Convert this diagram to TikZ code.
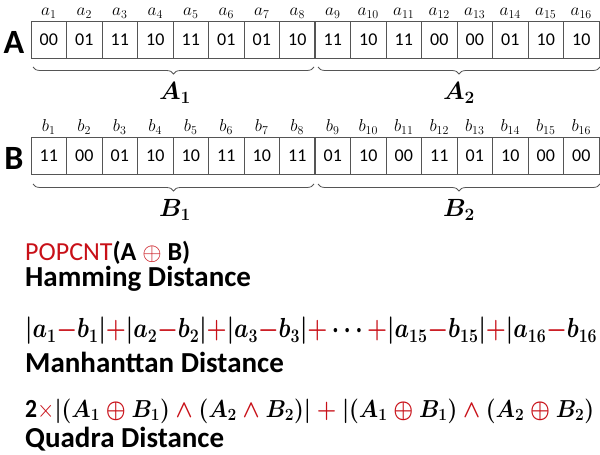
\documentclass[tikz,border=0pt]{standalone}
\usepackage{fontspec}
\setmainfont{Carlito}
\usepackage{bm}
\usetikzlibrary{decorations.pathreplacing}
\definecolor{myred}{RGB}{200,16,24}
\definecolor{cellline}{RGB}{85,85,85}
\newcommand{\rd}[1]{{\color{myred}#1}}
\newcommand{\rbin}[1]{\mathbin{\color{myred}\bm{#1}}}
\tikzset{
  cell/.style={draw=cellline, line width=0.8pt, minimum width=35.5pt, minimum height=37pt, inner sep=0pt, outer sep=0pt, font=\fontsize{18}{18}\selectfont},
  idx/.style={inner sep=0pt, font=\fontsize{18}{18}\selectfont},
  rowlab/.style={inner sep=0pt, font=\bfseries\fontsize{34}{34}\selectfont},
  bracepath/.style={draw=cellline, line width=0.8pt, decorate, decoration={brace, mirror, amplitude=7pt}},
  partlab/.style={inner sep=0pt, font=\fontsize{23}{23}\selectfont},
  txt/.style={inner sep=0pt, anchor=west, font=\fontsize{26}{28}\selectfont},
  ftxt/.style={inner sep=0pt, anchor=west, font=\fontsize{22}{24}\selectfont},
  btxt/.style={inner sep=0pt, anchor=west, font=\bfseries\fontsize{29}{31}\selectfont},
}
\begin{document}
\begin{tikzpicture}[x=1pt, y=-1pt]
\useasboundingbox (0,0) rectangle (600,455);
% row A
\foreach \v [count=\i] in {00,01,11,10,11,01,01,10,11,10,11,00,00,01,10,10}{
  \node[cell] (a\i) at ({31+35.5*(\i-0.5)}, 39.5) {\v};
  \node[idx] (la\i) at ({31+35.5*(\i-0.5)}, 13) {$a_{\i}$};
}
\draw[cellline, line width=1.4pt] (a8.north east) -- (a8.south east);
\node[rowlab] (rowA) at (14,42) {A};
\coordinate (ba1) at (33,67);
\coordinate (ba2) at (314,67);
\coordinate (ba3) at (318,67);
\coordinate (ba4) at (600,67);
\draw[bracepath] (ba1) -- (ba2);
\draw[bracepath] (ba3) -- (ba4);
\node[partlab] (A1) at (175,93) {$\bm{A_1}$};
\node[partlab] (A2) at (459,93) {$\bm{A_2}$};
% row B
\foreach \v [count=\i] in {11,00,01,10,10,11,10,11,01,10,00,11,01,10,00,00}{
  \node[cell] (b\i) at ({31+35.5*(\i-0.5)}, 156) {\v};
  \node[idx] (lb\i) at ({31+35.5*(\i-0.5)}, 127) {$b_{\i}$};
}
\draw[cellline, line width=1.4pt] (b8.north east) -- (b8.south east);
\node[rowlab] (rowB) at (14,158) {B};
\coordinate (bb1) at (33,184);
\coordinate (bb2) at (314,184);
\coordinate (bb3) at (318,184);
\coordinate (bb4) at (600,184);
\draw[bracepath] (bb1) -- (bb2);
\draw[bracepath] (bb3) -- (bb4);
\node[partlab] (B1) at (175,210) {$\bm{B_1}$};
\node[partlab] (B2) at (459,210) {$\bm{B_2}$};
% Hamming
\node[txt] (pop) at (25,253) {\rd{POPCNT}\textbf{(A \rd{$\oplus$} B)}};
\node[btxt] (ham) at (25,279) {Hamming Distance};
% Manhattan
\node[ftxt] (man) at (25,331) {\resizebox{572pt}{!}{\scalebox{1}[1.2]{\boldmath$\bm{|a_1}\rd{\bm{-}}\bm{b_1|}\rd{\bm{+}}\bm{|a_2}\rd{\bm{-}}\bm{b_2|}\rd{\bm{+}}\bm{|a_3}\rd{\bm{-}}\bm{b_3|}\rd{\bm{+}}\bm{\cdots}\rd{\bm{+}}\bm{|a_{15}}\rd{\bm{-}}\bm{b_{15}|}\rd{\bm{+}}\bm{|a_{16}}\rd{\bm{-}}\bm{b_{16}}$}}};
\node[btxt] (mand) at (25,362) {Manhanttan Distance};
% Quadra
\node[ftxt] (quad) at (25,411) {\resizebox{569pt}{!}{\scalebox{1}[1.1]{\textbf{2}\rd{$\times$}\boldmath$\bm{|(A_1} \rbin{\oplus} \bm{B_1)}\rbin{\wedge}\bm{(A_2}\rbin{\wedge} \bm{B_2)|}\rbin{+}\bm{|(A_1}\rbin{\oplus} \bm{B_1)}\rbin{\wedge}\bm{(A_2}\rbin{\oplus} \bm{B_2)}$}}};
\node[btxt] (quadd) at (25,439) {Quadra Distance};
\end{tikzpicture}
\end{document}
